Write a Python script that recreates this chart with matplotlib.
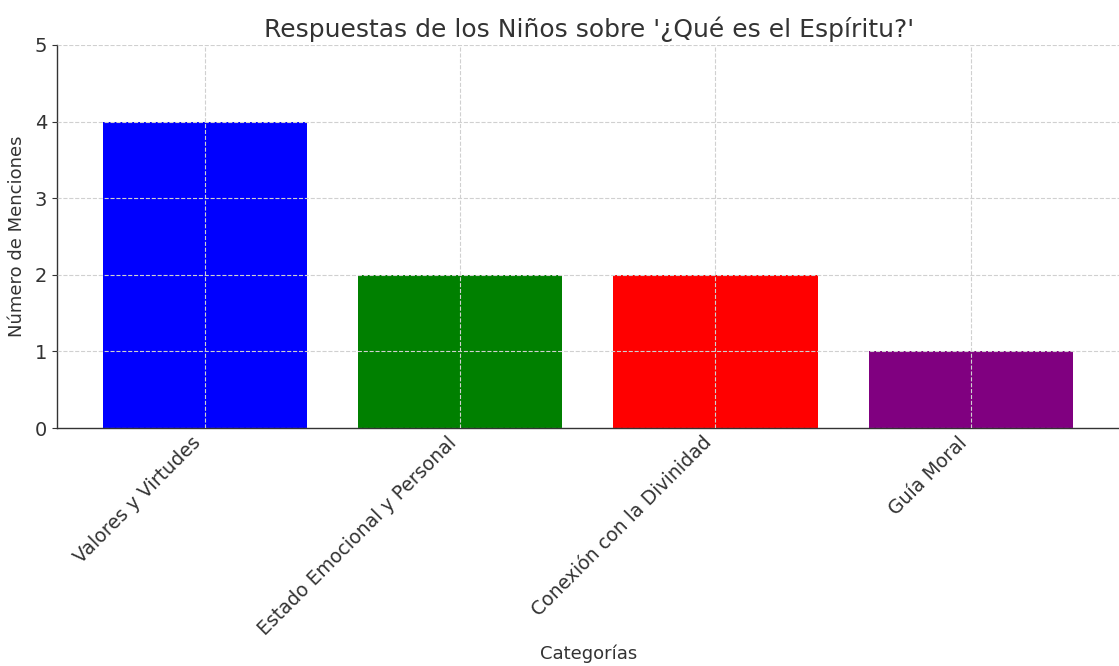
import matplotlib
matplotlib.use("Agg")
import matplotlib.pyplot as plt

categories = ["Valores y Virtudes", "Estado Emocional y Personal",
              "Conexión con la Divinidad", "Guía Moral"]
mentions = [4, 2, 2, 1]
bar_colors = ["blue", "green", "red", "purple"]

txt = "#333333"
fig = plt.figure(figsize=(11.19, 6.66), dpi=100)
ax = fig.add_axes([57/1119, 1 - 428/666, 1 - 57/1119 + 0.002, (428 - 45)/666])

ax.bar(categories, mentions, color=bar_colors, width=0.8)
ax.set_ylim(0, 5)
ax.set_xlim(-0.58, 3.59)
ax.set_axisbelow(False)
ax.grid(True, linestyle="--", color="#d0d0d0", linewidth=0.8)
for side in ("top", "right"):
    ax.spines[side].set_visible(False)
for side in ("left", "bottom"):
    ax.spines[side].set_color("#333333")
    ax.spines[side].set_linewidth(1.0)

ax.set_title("Respuestas de los Niños sobre '¿Qué es el Espíritu?'",
             fontsize=18, color=txt, pad=6)
ax.set_xlabel("Categorías", fontsize=13, color=txt, labelpad=4)
ax.set_ylabel("Número de Menciones", fontsize=13, color=txt, labelpad=6)
ax.tick_params(axis="y", labelsize=14, colors=txt)
ax.tick_params(axis="x", labelsize=13.6, colors=txt, length=0)
plt.setp(ax.get_xticklabels(), rotation=45, ha="right")

fig.savefig("out.png", dpi=100)
